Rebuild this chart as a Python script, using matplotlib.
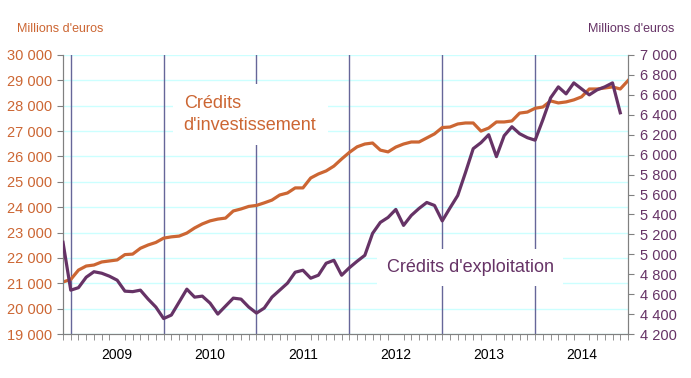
import numpy as np
import matplotlib
matplotlib.use("Agg")
import matplotlib.pyplot as plt
from matplotlib.ticker import FuncFormatter, MultipleLocator

plt.rcParams["font.family"] = ["Liberation Sans", "DejaVu Sans"]

ORANGE = "#cc6633"
PURPLE = "#663366"

# monthly values, Dec 2008 onwards
invest = [21050, 21150, 21520, 21680, 21720, 21840, 21880, 21920, 22130, 22150,
          22380, 22510, 22610, 22780, 22830, 22860, 22980, 23180, 23340, 23460,
          23530, 23570, 23850, 23930, 24030, 24070, 24170, 24280, 24480, 24560,
          24760, 24760, 25150, 25310, 25430, 25620, 25900, 26160, 26380, 26490,
          26530, 26250, 26180, 26370, 26490, 26570, 26570, 26730, 26890, 27140,
          27160, 27280, 27320, 27320, 27000, 27120, 27360, 27360, 27400, 27710,
          27750, 27900, 27950, 28190, 28110, 28150, 28230, 28350, 28660, 28660,
          28700, 28740, 28660, 28990]

exploit = [5120, 4640, 4665, 4770, 4825, 4810, 4780, 4740, 4630, 4625,
           4640, 4550, 4470, 4355, 4390, 4520, 4650, 4570, 4580, 4510,
           4400, 4480, 4560, 4550, 4470, 4410, 4460, 4570, 4640, 4710,
           4820, 4840, 4760, 4790, 4910, 4940, 4790, 4865, 4930, 4990,
           5210, 5320, 5370, 5450, 5290, 5390, 5460, 5520, 5490, 5335,
           5465, 5590, 5820, 6060, 6120, 6200, 5980, 6190, 6280, 6210,
           6170, 6145, 6350, 6570, 6680, 6610, 6720, 6660, 6600, 6650,
           6680, 6720, 6420]

years = ["2009", "2010", "2011", "2012", "2013", "2014"]


def fmt_space(v, pos):
    return f"{int(round(v)):,}".replace(",", " ")


fig = plt.figure(figsize=(6.91, 3.78), dpi=100)
ax = fig.add_axes([63 / 691, 1 - 334 / 378, 565 / 691, 279 / 378])
ax2 = ax.twinx()

x_inv = np.arange(len(invest))
x_exp = np.arange(len(exploit))

ax.set_axisbelow(True)
ax.yaxis.grid(True, color="#ccffff", linewidth=1.0)
for k in range(len(years)):
    ax.axvline(1 + 12 * k, color="#666699", linewidth=1.0, zorder=1)

ax.plot(x_inv, invest, color=ORANGE, linewidth=2.3, zorder=3)
ax2.plot(x_exp, exploit, color=PURPLE, linewidth=2.3, zorder=3)

ax.set_xlim(0, 73)
ax.set_ylim(19000, 30000)
ax2.set_ylim(4200, 7000)
ax.yaxis.set_major_locator(MultipleLocator(1000))
ax2.yaxis.set_major_locator(MultipleLocator(200))
ax.yaxis.set_major_formatter(FuncFormatter(fmt_space))
ax2.yaxis.set_major_formatter(FuncFormatter(fmt_space))

# x axis: month ticks, year labels centred in each year
ax.set_xticks(np.arange(0, 74), minor=True)
ax.set_xticks([7 + 12 * k for k in range(len(years))])
ax.set_xticklabels(years)
ax.tick_params(axis="x", which="major", length=0, pad=10, labelsize=10, labelcolor="black")
ax.tick_params(axis="x", which="minor", length=4, color="#808080", direction="out")
ax.tick_params(axis="y", length=4, color="#808080", labelsize=10.5, labelcolor=ORANGE, pad=4)
ax2.tick_params(axis="y", length=4, color="#808080", labelsize=10.5, labelcolor=PURPLE, pad=4.5)

for a in (ax, ax2):
    a.spines["top"].set_visible(False)
    for s in ("left", "right", "bottom"):
        a.spines[s].set_color("#808080")

ax.text(15.6, 27650, "Crédits\nd'investissement", color=ORANGE, fontsize=13,
        linespacing=1.35, va="center", ha="left", zorder=5,
        bbox=dict(facecolor="white", edgecolor="none", pad=8))
ax.text(41.8, 21630, "Crédits d'exploitation", color=PURPLE, fontsize=13,
        va="center", ha="left", zorder=5,
        bbox=dict(facecolor="white", edgecolor="none", pad=7))

fig.text(17 / 691, 1 - 29 / 378, "Millions d'euros", color=ORANGE, fontsize=9, va="center")
fig.text(674 / 691, 1 - 29 / 378, "Millions d'euros", color=PURPLE, fontsize=9,
         va="center", ha="right")

fig.savefig("out.png", dpi=100)
